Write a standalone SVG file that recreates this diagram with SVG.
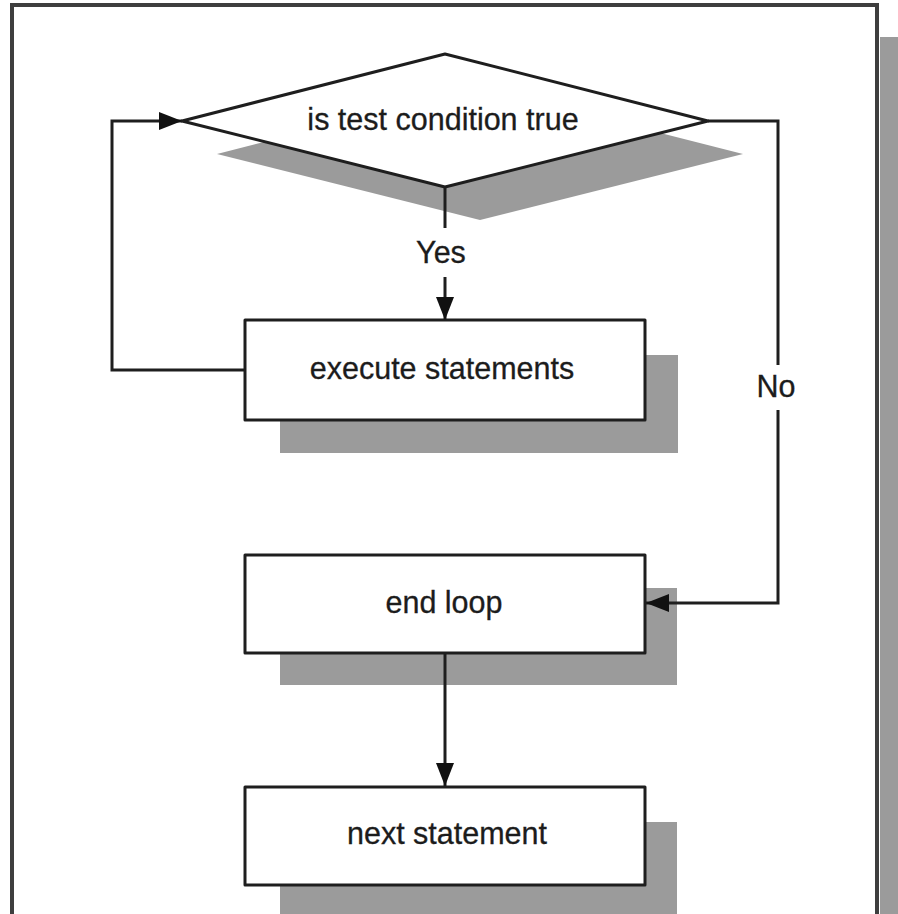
<svg xmlns="http://www.w3.org/2000/svg" width="898" height="914" viewBox="0 0 898 914">
  <style>
    .shadow { fill: #9b9b9b; stroke: none; }
    .shape { fill: #ffffff; stroke: #1e1e1e; stroke-width: 3; stroke-linejoin: round; }
    .label { font-family: "Liberation Sans", Arial, sans-serif; font-size: 30.5px; fill: #1c1c1c; stroke: #1c1c1c; stroke-width: 0.3; text-anchor: middle; }
    .conn { fill: none; stroke: #1e1e1e; stroke-width: 3; }
  </style>
  <defs>
    <marker id="arrow" markerUnits="userSpaceOnUse" markerWidth="24" markerHeight="20" viewBox="0 0 24 20" refX="23" refY="10" orient="auto">
      <path d="M0,1 L23,10 L0,19 Z" fill="#111111"/>
    </marker>
  </defs>

  <rect x="0" y="0" width="898" height="914" fill="#ffffff"/>

  <!-- page frame with its drop shadow -->
  <g id="frame">
    <rect x="880" y="37" width="18" height="880" class="shadow"/>
    <rect x="12" y="5" width="865" height="930" fill="#ffffff" stroke="#3e3e3e" stroke-width="4"/>
  </g>

  <g id="decision">
    <polygon class="shadow" points="217,154 480,87 743,154 480,220"/>
    <polygon class="shape" points="182,121 445,54 708,121 445,187"/>
    <text class="label" x="443" y="130">is test condition true</text>
  </g>

  <g id="execute">
    <rect class="shadow" x="280" y="355" width="398" height="98"/>
    <rect class="shape" x="245" y="320" width="400" height="100"/>
    <text class="label" x="442" y="379">execute statements</text>
  </g>

  <g id="endloop">
    <rect class="shadow" x="280" y="588" width="397" height="97"/>
    <rect class="shape" x="245" y="555" width="400" height="98"/>
    <text class="label" x="444" y="613">end loop</text>
  </g>

  <g id="next">
    <rect class="shadow" x="280" y="822" width="397" height="100"/>
    <rect class="shape" x="245" y="787" width="400" height="98"/>
    <text class="label" x="447" y="844">next statement</text>
  </g>

  <!-- connectors, drawn over the node shadows -->
  <g id="connectors">
    <path class="conn" d="M445,187 L445,228"/>
    <path class="conn" d="M445,277 L445,320" marker-end="url(#arrow)"/>
    <path class="conn" d="M245,370 L112,370 L112,121 L182,121" marker-end="url(#arrow)"/>
    <path class="conn" d="M708,121 L778,121 L778,365"/>
    <path class="conn" d="M778,410 L778,603 L646,603" marker-end="url(#arrow)"/>
    <path class="conn" d="M445,653 L445,786" marker-end="url(#arrow)"/>
    <text class="label" x="441" y="263">Yes</text>
    <text class="label" x="776" y="397">No</text>
  </g>
</svg>
